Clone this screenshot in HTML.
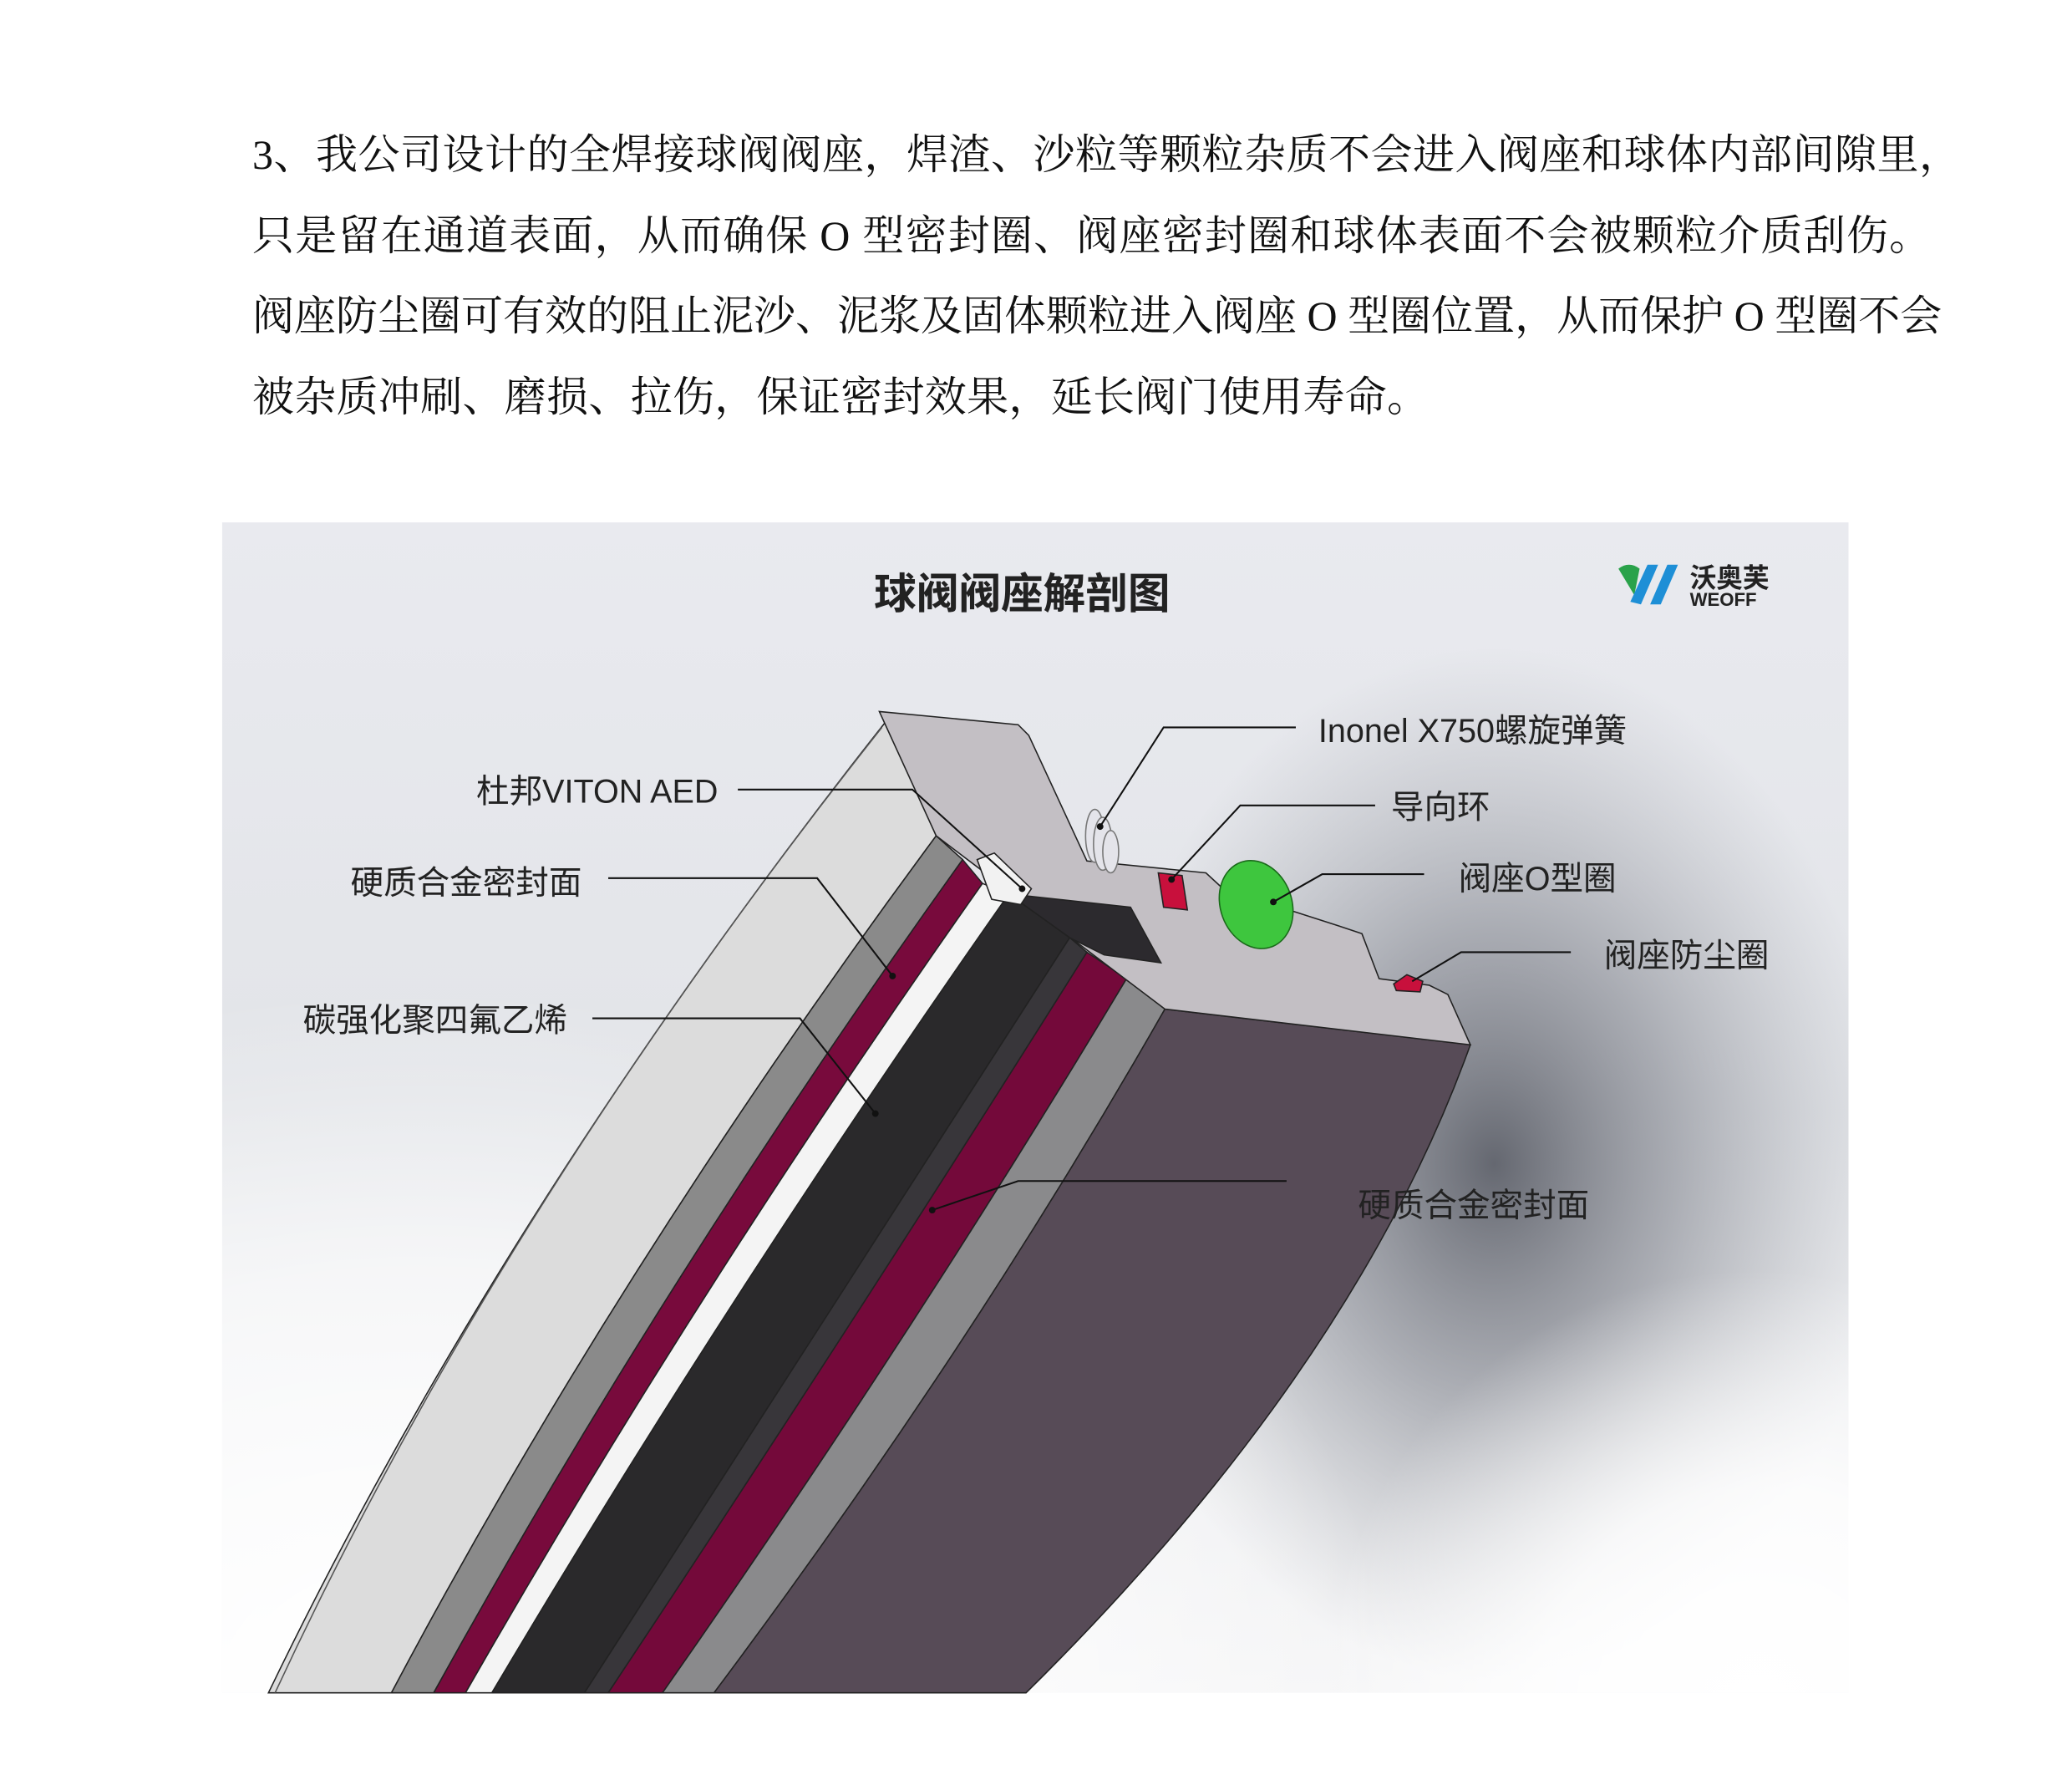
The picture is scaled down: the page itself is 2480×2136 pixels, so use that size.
<!DOCTYPE html>
<html><head><meta charset="utf-8"><style>
html,body{margin:0;padding:0;background:#fff;}
body{width:2480px;height:2136px;position:relative;overflow:hidden;}
.p{position:absolute;left:302px;font-family:"Liberation Serif","Noto Serif CJK SC",serif;font-size:50px;line-height:60px;color:#111;white-space:nowrap;}
svg{position:absolute;left:0;top:0;}
</style></head><body>
<div class="p" style="top:155px;letter-spacing:0.5px">3、我公司设计的全焊接球阀阀座，焊渣、沙粒等颗粒杂质不会进入阀座和球体内部间隙里，</div>
<div class="p" style="top:252px;letter-spacing:1.2px">只是留在通道表面，从而确保 O 型密封圈、阀座密封圈和球体表面不会被颗粒介质刮伤。</div>
<div class="p" style="top:348px;letter-spacing:0px">阀座防尘圈可有效的阻止泥沙、泥浆及固体颗粒进入阀座 O 型圈位置，从而保护 O 型圈不会</div>
<div class="p" style="top:445px;letter-spacing:0.3px">被杂质冲刷、磨损、拉伤，保证密封效果，延长阀门使用寿命。</div>
<svg width="2480" height="2136" viewBox="0 0 1567 1349.7">
<defs>
<linearGradient id="bg" x1="0" y1="0" x2="0" y2="1">
<stop offset="0" stop-color="#e9eaef"/><stop offset="0.5" stop-color="#e2e4e8"/><stop offset="1" stop-color="#f6f6f7"/></linearGradient>
<radialGradient id="wh" cx="0.12" cy="1" r="0.6"><stop offset="0" stop-color="#fff"/><stop offset="0.6" stop-color="#fff" stop-opacity="0.6"/><stop offset="1" stop-color="#fff" stop-opacity="0"/></radialGradient>
<radialGradient id="dk" gradientUnits="userSpaceOnUse" cx="1130" cy="880" r="300" gradientTransform="translate(1130 880) scale(1 1.3) translate(-1130 -880)"><stop offset="0" stop-color="#5e616a" stop-opacity="0.95"/><stop offset="0.45" stop-color="#82858e" stop-opacity="0.6"/><stop offset="1" stop-color="#a0a3aa" stop-opacity="0"/></radialGradient>
<radialGradient id="wh2" gradientUnits="userSpaceOnUse" cx="1330" cy="1290" r="330"><stop offset="0" stop-color="#fff"/><stop offset="0.5" stop-color="#fff" stop-opacity="0.8"/><stop offset="1" stop-color="#fff" stop-opacity="0"/></radialGradient>
</defs>
<rect x="168" y="395" width="1230" height="885" fill="url(#bg)"/>
<rect x="168" y="395" width="1230" height="885" fill="url(#dk)"/>
<rect x="168" y="395" width="1230" height="885" fill="url(#wh)"/>
<rect x="168" y="395" width="1230" height="885" fill="url(#wh2)"/>
<g stroke="#222" stroke-width="1">
<path d="M672,543 Q381,911 203,1280 L296,1280 Q468,956 708,632 Z" fill="#dcdcdc"/>
<path d="M667,550 Q378,914 208,1280" fill="none" stroke="#555"/>
<path d="M708,632 Q468,956 296,1280 L328,1280 Q502,965 728,650 Z" fill="#8a8a8a"/>
<path d="M728,650 Q502,965 328,1280 L352,1280 Q527,974 743,668 Z" fill="#780a3c"/>
<path d="M743,668 Q527,974 352,1280 L372,1280 Q551,978 763,676 Z" fill="#f4f4f4"/>
<path d="M763,676 Q551,978 372,1280 L442,1280 Q625,994 809,709 Z" fill="#2a292b"/>
<path d="M809,709 Q625,994 442,1280 L460,1280 Q646,1000 822,720 Z" fill="#38363a"/>
<path d="M822,720 Q646,1000 460,1280 L501,1280 Q690,1010 852,740 Z" fill="#74093a"/>
<path d="M852,740 Q690,1010 501,1280 L540,1280 Q734,1021 881,763 Z" fill="#8a8a8c"/>
<path d="M881,763 Q734,1021 540,1280 L776,1280 Q1024,1035 1112,790 Z" fill="#574b57"/>
<path d="M665,538 L770,548 L778,556 L822,651 L912,660 L925,672 L1012,700 L1030,706 L1043,740 L1081,745 L1095,752 L1112,790 L881,763 L708,632 Z" fill="#c3bfc4"/>
<path d="M763,676 L855,686 L878,728 L835,722 L809,709 Z" fill="#2c2a2e"/>
<path d="M739,650 L752,645 L780,672 L772,684 L750,680 Z" fill="#f2f2f2"/>
<g fill="#e4e4ea" stroke="#777"><ellipse cx="828" cy="632" rx="7" ry="20"/><ellipse cx="834" cy="638" rx="7" ry="20"/><ellipse cx="840" cy="644" rx="6" ry="16"/></g>
<path d="M876,660 L894,662 L898,688 L880,686 Z" fill="#c8103c"/>
<ellipse cx="950" cy="684" rx="27" ry="34" transform="rotate(-20 950 684)" fill="#3ec63e" stroke="#1a6a1a"/>
<path d="M1054,744 L1064,737 L1076,742 L1074,750 L1056,749 Z" fill="#c8103c"/>
</g>
<g stroke="#111" stroke-width="1.3" fill="none">
<polyline points="980,550 880,550 832,625"/>
<polyline points="1040,609 938,609 886,665"/>
<polyline points="1077,661 1000,661 963,682"/>
<polyline points="1188,720 1105,720 1068,742"/>
<polyline points="558,597 690,597 773,672"/>
<polyline points="460,664 618,664 675,738"/>
<polyline points="448,770 605,770 662,842"/>
<polyline points="973,893 770,893 705,915"/>
</g>
<g fill="#111"><circle cx="832" cy="625" r="2.5"/><circle cx="886" cy="665" r="2.5"/><circle cx="963" cy="682" r="2.5"/><circle cx="773" cy="672" r="2.5"/><circle cx="675" cy="738" r="2.5"/><circle cx="662" cy="842" r="2.5"/><circle cx="705" cy="915" r="2.5"/></g>
<g font-family="Liberation Sans,Noto Sans CJK SC,sans-serif" font-size="25" fill="#222">
<text x="997" y="561">Inonel X750螺旋弹簧</text>
<text x="1052" y="619">导向环</text>
<text x="1103" y="673">阀座O型圈</text>
<text x="1213" y="731">阀座防尘圈</text>
<text x="543" y="607" text-anchor="end">杜邦VITON AED</text>
<text x="440" y="676" text-anchor="end">硬质合金密封面</text>
<text x="429" y="780" text-anchor="end">碳强化聚四氟乙烯</text>
<text x="1027" y="920">硬质合金密封面</text>
</g>
<text x="773" y="460" text-anchor="middle" font-family="Noto Sans CJK SC,sans-serif" font-weight="bold" font-size="32" fill="#222">球阀阀座解剖图</text>
<path d="M1224,430 Q1232,424 1240,430 L1236,450 Z" fill="#2aa24a"/>
<path d="M1233,455 L1246,427 L1254,427 L1241,457 Z" fill="#1e8fd6"/>
<path d="M1248,457 L1261,427 L1269,427 L1256,457 Z" fill="#1e8fd6"/>
<text x="1278" y="444" font-family="Noto Sans CJK SC,sans-serif" font-weight="bold" font-size="20" fill="#222">沃奥芙</text>
<text x="1278" y="458" font-family="Liberation Sans,sans-serif" font-weight="bold" font-size="14" fill="#222">WEOFF</text>
</svg>
</body></html>
